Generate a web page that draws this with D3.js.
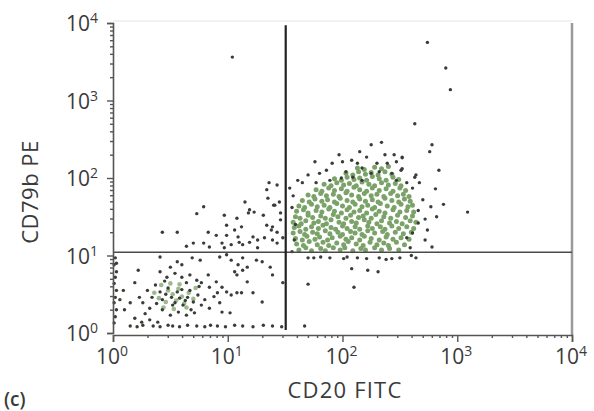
<!DOCTYPE html>
<html><head><meta charset="utf-8">
<script src="https://cdn.jsdelivr.net/npm/d3@7"></script>
<style>body{margin:0;background:#fff}text{font-family:"Open Sans",sans-serif;fill:#3a3a3a}</style>
</head><body>
<svg id="c" width="594" height="411"></svg>
<script>
const majorTicks = [1, 10, 100, 1000, 10000];
const tickExponents = ["0", "1", "2", "3", "4"];
const xTitle = "CD20 FITC";
const yTitle = "CD79b PE";
const panelLabel = "(c)";
const gateCD20 = 32;
const gateCD79b = 11;

// events as [log10 CD20, log10 CD79b]
const bCellCore = [
[1.62,1.07],[1.68,1.10],[1.73,1.06],[1.81,1.09],[1.85,1.06],[1.92,1.10],[1.98,1.07],[2.02,1.10],[2.09,1.06],[2.16,1.09],[2.20,1.07],[2.28,1.10],[2.34,1.07],[2.41,1.09],[2.49,1.07],
[1.60,1.15],[1.66,1.13],[1.71,1.18],[1.78,1.14],[1.83,1.17],[1.88,1.13],[1.95,1.16],[2.01,1.14],[2.05,1.18],[2.12,1.15],[2.18,1.13],[2.24,1.17],[2.30,1.14],[2.36,1.16],[2.40,1.13],[2.47,1.17],[2.54,1.14],
[1.59,1.22],[1.65,1.20],[1.69,1.25],[1.76,1.21],[1.80,1.24],[1.87,1.20],[1.91,1.23],[1.98,1.25],[2.03,1.21],[2.08,1.23],[2.15,1.20],[2.19,1.25],[2.25,1.22],[2.32,1.20],[2.38,1.24],[2.44,1.21],[2.51,1.23],[2.58,1.21],
[1.57,1.29],[1.63,1.31],[1.67,1.27],[1.74,1.30],[1.78,1.28],[1.85,1.32],[1.89,1.28],[1.96,1.30],[2.00,1.27],[2.07,1.31],[2.11,1.29],[2.17,1.27],[2.22,1.32],[2.28,1.29],[2.35,1.31],[2.39,1.27],[2.46,1.30],[2.53,1.28],[2.60,1.30],
[1.58,1.36],[1.62,1.38],[1.68,1.34],[1.73,1.37],[1.79,1.35],[1.83,1.39],[1.90,1.36],[1.94,1.34],[2.00,1.38],[2.04,1.35],[2.11,1.37],[2.15,1.34],[2.22,1.38],[2.26,1.35],[2.33,1.37],[2.37,1.34],[2.43,1.38],[2.49,1.35],[2.56,1.37],[2.62,1.35],
[1.57,1.43],[1.64,1.41],[1.68,1.45],[1.75,1.42],[1.79,1.44],[1.86,1.41],[1.90,1.46],[1.97,1.43],[2.01,1.41],[2.08,1.44],[2.12,1.42],[2.19,1.46],[2.23,1.43],[2.30,1.41],[2.34,1.45],[2.41,1.42],[2.47,1.44],[2.52,1.41],[2.59,1.45],[2.64,1.43],
[1.59,1.50],[1.63,1.48],[1.70,1.52],[1.74,1.49],[1.81,1.51],[1.85,1.48],[1.92,1.53],[1.96,1.50],[2.03,1.48],[2.07,1.52],[2.14,1.49],[2.18,1.51],[2.25,1.48],[2.29,1.53],[2.36,1.50],[2.42,1.48],[2.48,1.52],[2.55,1.49],[2.61,1.51],
[1.60,1.57],[1.66,1.59],[1.70,1.55],[1.77,1.58],[1.82,1.56],[1.88,1.60],[1.93,1.57],[1.99,1.55],[2.04,1.59],[2.10,1.56],[2.15,1.58],[2.21,1.55],[2.26,1.60],[2.32,1.57],[2.37,1.55],[2.44,1.59],[2.50,1.56],[2.56,1.58],[2.62,1.56],
[1.62,1.64],[1.67,1.62],[1.73,1.66],[1.78,1.63],[1.84,1.65],[1.89,1.62],[1.95,1.67],[2.00,1.64],[2.06,1.62],[2.11,1.66],[2.17,1.63],[2.22,1.65],[2.28,1.62],[2.33,1.67],[2.39,1.64],[2.45,1.62],[2.51,1.66],[2.57,1.63],[2.61,1.65],
[1.65,1.71],[1.71,1.69],[1.76,1.73],[1.82,1.70],[1.87,1.72],[1.93,1.69],[1.98,1.74],[2.04,1.71],[2.09,1.69],[2.15,1.73],[2.20,1.70],[2.26,1.72],[2.31,1.69],[2.37,1.74],[2.43,1.71],[2.49,1.69],[2.54,1.73],[2.59,1.70],
[1.70,1.78],[1.75,1.76],[1.81,1.80],[1.86,1.77],[1.92,1.79],[1.97,1.76],[2.03,1.81],[2.08,1.78],[2.14,1.76],[2.19,1.80],[2.25,1.77],[2.30,1.79],[2.36,1.76],[2.42,1.80],[2.48,1.77],[2.53,1.79],[2.58,1.76],
[1.77,1.85],[1.82,1.83],[1.88,1.87],[1.93,1.84],[1.99,1.86],[2.04,1.83],[2.10,1.88],[2.15,1.85],[2.21,1.83],[2.26,1.87],[2.32,1.84],[2.38,1.86],[2.44,1.83],[2.50,1.87],[2.55,1.84],
[1.84,1.92],[1.90,1.90],[1.95,1.94],[2.01,1.91],[2.06,1.93],[2.12,1.90],[2.17,1.95],[2.23,1.92],[2.28,1.90],[2.34,1.94],[2.40,1.91],[2.46,1.93],[2.51,1.90],
[1.93,1.99],[1.99,1.97],[2.04,2.01],[2.10,1.98],[2.15,2.00],[2.21,1.97],[2.26,2.02],[2.32,1.99],[2.38,1.97],[2.44,2.01],[2.49,1.98],
[2.03,2.06],[2.09,2.04],[2.14,2.08],[2.20,2.05],[2.25,2.07],[2.31,2.04],[2.37,2.08],[2.43,2.05],
[2.13,2.13],[2.19,2.11],[2.28,2.14],[2.34,2.12],[2.40,2.15]
];

const lowCore = [
[0.40,0.45],[0.46,0.40],[0.52,0.50],[0.55,0.42],[0.60,0.47],[0.62,0.38],[0.48,0.55],[0.57,0.57],[0.66,0.52],
[0.70,0.44],[0.44,0.33],[0.53,0.31],[0.64,0.33],[0.36,0.52],[0.58,0.63],[0.50,0.64],[0.72,0.58],[0.42,0.62]
];

const sparseEvents = [
// high outliers
[1.04,3.56],[2.74,3.75],[2.90,3.42],[2.94,3.14],[2.63,2.70],[2.78,2.43],[2.76,2.34],[2.84,2.10],[3.09,1.56],[2.88,1.66],
[2.77,1.63],[2.81,1.86],[2.63,2.01],[2.67,1.94],[2.52,2.12],[2.52,2.27],
// top rim of B cell cluster
[2.25,2.43],[2.34,2.46],[1.97,2.30],[2.15,2.34],[2.21,2.27],[2.37,2.30],[2.45,2.30],[2.52,2.26],[1.76,2.21],[1.91,2.19],
[2.00,2.21],[2.08,2.23],[2.13,2.19],[2.30,2.19],[2.39,2.19],[2.47,2.21],[2.51,2.10],[2.64,2.04],[1.70,2.04],[1.80,2.06],
[1.86,2.10],[2.03,2.08],[2.17,2.13],[2.25,2.06],[2.32,2.08],[2.43,2.06],[1.61,1.97],[1.65,1.94],[1.54,1.87],[1.77,1.94],
[1.89,1.97],[1.99,2.00],[2.09,2.01],[2.17,1.97],[2.47,1.97],[2.56,1.94],[2.61,1.87],
// right rim
[2.82,1.50],[2.66,1.42],[2.74,1.33],[2.61,1.29],[2.72,1.20],[2.78,1.11],[2.56,1.23],[2.59,1.10],[2.70,1.72],[2.66,1.58],[2.72,1.47],
// left rim at the CD20 gate
[1.56,1.62],[1.58,1.20],[1.57,1.77],[1.59,1.40],[1.56,1.05],
// just below CD79b gate, right
[1.70,0.97],[1.75,0.97],[1.81,0.98],[1.89,0.97],[2.01,0.96],[2.04,0.98],[2.13,0.97],[2.21,0.96],[2.32,0.97],[2.38,0.95],
[2.43,0.96],[2.50,0.97],[2.60,1.00],[2.64,0.97],
// lower right quadrant
[1.70,0.63],[2.10,0.59],[2.08,0.83],[2.22,0.81],[2.31,0.79],[1.67,0.09],
// diagonal band, upper left
[0.43,1.30],[0.56,1.30],[0.73,1.54],[0.79,1.63],[0.83,1.30],[0.90,1.26],[0.97,1.52],[0.99,1.39],[1.08,1.48],[1.06,1.33],
[1.09,1.24],[1.12,1.37],[1.15,1.69],[1.19,1.59],[1.23,1.56],[1.31,1.52],[1.34,1.85],[1.36,1.94],[1.43,1.91],[1.40,1.65],
[1.45,1.69],[1.46,1.55],[1.34,1.39],[1.38,1.33],[1.22,1.24],[1.26,1.20],[1.32,1.23],[1.39,1.20],[0.64,1.12],[0.70,1.16],
[0.79,1.16],[0.84,1.11],[0.95,1.16],[0.97,1.10],[1.03,1.14],[1.13,1.14],[1.19,1.17],[1.26,1.10],[1.43,1.16],[1.48,1.23],
[1.18,1.55],[0.99,1.26],[1.10,1.17],[1.39,1.37],[1.43,1.30],[1.46,1.46],[1.35,1.74],[1.41,1.65],
// lower left population
[0.41,0.98],[0.56,0.92],[0.60,0.88],[0.69,0.97],[0.76,0.94],[0.93,0.98],[0.99,1.01],[1.03,0.94],[1.09,0.88],[1.13,0.97],
[1.17,0.85],[1.25,0.94],[1.30,0.92],[1.37,0.85],[1.13,0.81],[1.08,0.75],[1.06,0.79],[1.39,0.75],[0.03,0.90],[0.22,0.81],
[0.41,0.79],[0.50,0.85],[0.47,0.72],[0.54,0.77],[0.60,0.72],[0.67,0.75],[0.73,0.68],[0.64,0.65],[0.77,0.65],[0.83,0.75],
[0.84,0.59],[0.90,0.66],[0.95,0.59],[0.99,0.53],[0.91,0.52],[1.03,0.49],[1.17,0.66],[1.08,0.52],[1.12,0.52],[1.22,0.52],
[1.30,0.40],[1.48,0.65],[0.19,0.65],[0.09,0.55],[0.06,0.43],[0.10,0.30],[0.15,0.39],[0.23,0.46],[0.26,0.39],[0.30,0.55],
[0.34,0.46],[0.32,0.32],[0.37,0.62],[0.41,0.53],[0.43,0.43],[0.48,0.58],[0.51,0.46],[0.54,0.39],[0.56,0.53],[0.58,0.45],
[0.61,0.36],[0.65,0.46],[0.67,0.55],[0.70,0.40],[0.74,0.49],[0.77,0.36],[0.80,0.43],[0.57,0.27],[0.50,0.23],[0.43,0.30],
[0.64,0.23],[0.71,0.26],[0.84,0.32],[0.93,0.39],[0.95,0.27],[1.02,0.26],[0.25,0.14],[0.19,0.19],[0.32,0.17],[0.39,0.14],
[0.46,0.50],[0.52,0.36],[0.60,0.56],[0.68,0.30],[0.38,0.38],[0.63,0.42],[0.45,0.67],[0.75,0.60],[0.28,0.25],[0.88,0.47],
// piled on the CD20 minimum
[0.02,0.97],[0.01,0.88],[0.03,0.79],[0.02,0.72],[0.01,0.64],[0.03,0.55],[0.02,0.46],[0.01,0.39],[0.03,0.30],[0.02,0.21],[0.01,0.13],
// piled on the CD79b minimum
[0.15,0.09],[0.21,0.08],[0.26,0.10],[0.35,0.09],[0.41,0.08],[0.48,0.10],[0.52,0.09],[0.58,0.08],[0.65,0.10],[0.73,0.09],
[0.80,0.08],[0.85,0.10],[0.91,0.09],[0.98,0.08],[1.06,0.10],[1.13,0.09],[1.22,0.08],[1.31,0.10],[1.39,0.09],[1.47,0.08]
];

const svg = d3.select("#c");
const x = d3.scaleLog().domain([1, 1e4]).range([113, 572]);
const y = d3.scaleLog().domain([1, 1e4]).range([333, 23]);
const ev = v => Math.pow(10, v);
const axisColor = "#555";

// frame: faint top, grey right
svg.append("line").attr("x1", x(1)).attr("x2", x(1e4)).attr("y1", y(1e4) - 2).attr("y2", y(1e4) - 2)
  .attr("stroke", "#eee").attr("stroke-width", 1.5);
svg.append("line").attr("x1", x(1e4)).attr("x2", x(1e4)).attr("y1", y(1e4)).attr("y2", y(1) + 2)
  .attr("stroke", "#9a9a9a").attr("stroke-width", 2.5);

// points
svg.append("g").selectAll("circle").data(lowCore).join("circle")
  .attr("cx", d => x(ev(d[0]))).attr("cy", d => y(ev(d[1]))).attr("r", 2.3).attr("fill", "#9dba8e");
svg.append("g").selectAll("circle").data(bCellCore).join("circle")
  .attr("cx", d => x(ev(d[0]))).attr("cy", d => y(ev(d[1]))).attr("r", 2.5).attr("fill", "#7ba369");
svg.append("g").selectAll("circle").data(sparseEvents).join("circle")
  .attr("cx", d => x(ev(d[0]))).attr("cy", d => y(ev(d[1]))).attr("r", 1.7).attr("fill", "#383d36");

// gates
svg.append("line").attr("x1", x(1)).attr("x2", x(1e4)).attr("y1", y(gateCD79b)).attr("y2", y(gateCD79b))
  .attr("stroke", "#4a4a4a").attr("stroke-width", 1.6);
svg.append("line").attr("x1", x(gateCD20)).attr("x2", x(gateCD20)).attr("y1", y(ev(3.97))).attr("y2", y(ev(0.04)))
  .attr("stroke", "#222").attr("stroke-width", 2.2);

// axes
const minor = x.ticks().filter(t => !majorTicks.includes(t));
const gx = svg.append("g").attr("transform", `translate(0,${y(1) + 2})`);
gx.call(d3.axisBottom(x).tickValues(majorTicks).tickSize(7).tickFormat(""));
gx.append("g").call(d3.axisBottom(x).tickValues(minor).tickSize(3).tickFormat("")).select(".domain").remove();
const gy = svg.append("g").attr("transform", `translate(${x(1)},0)`);
gy.call(d3.axisLeft(y).tickValues(majorTicks).tickSize(6).tickFormat(""));
gy.append("g").call(d3.axisLeft(y).tickValues(minor).tickSize(3).tickFormat("")).select(".domain").remove();
svg.selectAll(".domain").attr("stroke", axisColor).attr("stroke-width", 1.6);
svg.selectAll(".tick line").attr("stroke", axisColor).attr("stroke-width", 1.4);

// tick labels
majorTicks.forEach((t, i) => {
  const tx = svg.append("text").attr("x", x(t) - 1).attr("y", 364).attr("text-anchor", "middle").attr("font-size", 21);
  tx.append("tspan").text("10");
  tx.append("tspan").attr("font-size", 14).attr("dy", -8).text(tickExponents[i]);
  const ty = svg.append("text").attr("x", 98).attr("y", y(t) + 8).attr("text-anchor", "end").attr("font-size", 21);
  ty.append("tspan").text("10");
  ty.append("tspan").attr("font-size", 14).attr("dy", -8).text(tickExponents[i]);
});

// titles
svg.append("text").attr("x", 345).attr("y", 398).attr("text-anchor", "middle").attr("font-size", 22)
  .attr("letter-spacing", 1.2).text(xTitle);
svg.append("text").attr("transform", "translate(38,192) rotate(-90)").attr("text-anchor", "middle")
  .attr("font-size", 22).attr("letter-spacing", 0.5).text(yTitle);
svg.append("text").attr("x", 4).attr("y", 406).attr("font-size", 19).attr("font-weight", 600).text(panelLabel);
</script>
</body></html>
